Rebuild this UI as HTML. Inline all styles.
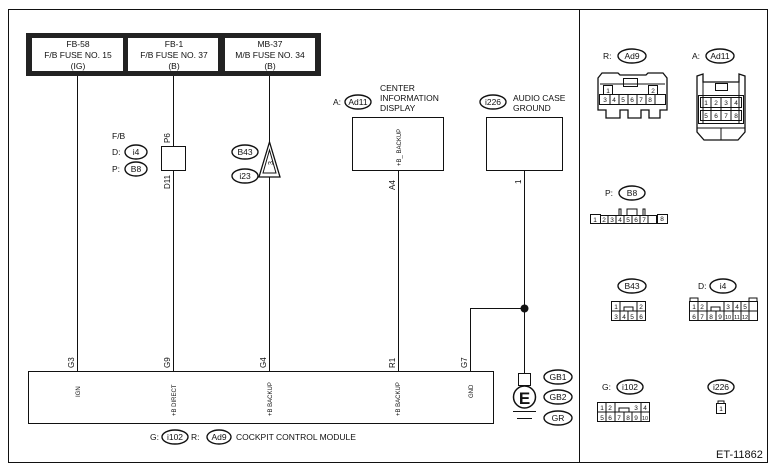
<!DOCTYPE html>
<html><head><meta charset="utf-8"><style>
html,body{margin:0;padding:0;background:#fff;}
svg{display:block;font-family:"Liberation Sans",sans-serif;}
text{fill:#111;}
</style></head><body>
<svg width="778" height="476" viewBox="0 0 778 476" xmlns="http://www.w3.org/2000/svg">
<g fill="none" stroke="#111" stroke-width="1">
<rect x="8.5" y="9.5" width="759" height="453"/>
<line x1="579.5" y1="9" x2="579.5" y2="463"/>
</g>
<!-- fuse block -->
<rect x="26" y="33" width="295" height="43" fill="#222"/>
<rect x="32" y="38" width="91" height="33" fill="#fff"/>
<rect x="128" y="38" width="90" height="33" fill="#fff"/>
<rect x="225" y="38" width="90" height="33" fill="#fff"/>
<g font-size="8.5" text-anchor="middle">
<text x="78" y="47">FB-58</text><text x="78" y="58">F/B FUSE NO. 15</text><text x="78" y="69">(IG)</text>
<text x="174" y="47">FB-1</text><text x="174" y="58">F/B FUSE NO. 37</text><text x="174" y="69">(B)</text>
<text x="270" y="47">MB-37</text><text x="270" y="58">M/B FUSE NO. 34</text><text x="270" y="69">(B)</text>
</g>
<g stroke="#111" stroke-width="1" fill="none">
<line x1="77.5" y1="76" x2="77.5" y2="371"/>
<line x1="173.5" y1="76" x2="173.5" y2="146"/>
<line x1="173.5" y1="170" x2="173.5" y2="371"/>
<line x1="269.5" y1="76" x2="269.5" y2="371"/>
<rect x="161.5" y="146.5" width="24" height="24" fill="#fff"/>
<polygon points="269.5,142 259,177 280,177" fill="#fff" stroke-width="1.3"/>
<polygon points="269.5,150 263,173 276,173"/>
<rect x="352.5" y="117.5" width="91" height="53"/>
<line x1="398.5" y1="171" x2="398.5" y2="371"/>
<rect x="486.5" y="117.5" width="76" height="53"/>
<line x1="524.5" y1="171" x2="524.5" y2="373"/>
<polyline points="470.5,371 470.5,308.5 524,308.5"/>
<rect x="28.5" y="371.5" width="465" height="52"/>
<rect x="518.5" y="373.5" width="12" height="12"/>
<circle cx="524.5" cy="397" r="11" stroke-width="1.5"/>
<line x1="513" y1="411.5" x2="536" y2="411.5"/>
<line x1="517" y1="418.5" x2="532" y2="418.5"/>
<g stroke-width="1.4">
<ellipse cx="136" cy="152" rx="11" ry="7"/>
<ellipse cx="136" cy="169" rx="11" ry="7"/>
<ellipse cx="245" cy="152" rx="13" ry="7"/>
<ellipse cx="245" cy="176" rx="13" ry="7"/>
<ellipse cx="358" cy="102" rx="13" ry="7"/>
<ellipse cx="493" cy="102" rx="13" ry="7"/>
<ellipse cx="558" cy="377" rx="14" ry="7"/>
<ellipse cx="558" cy="397" rx="14" ry="7"/>
<ellipse cx="558" cy="418" rx="14" ry="7"/>
<ellipse cx="175" cy="437" rx="13" ry="7"/>
<ellipse cx="219" cy="437" rx="12" ry="7"/>
</g>
</g>
<circle cx="524.5" cy="308.5" r="4" fill="#111"/>
<text x="524.5" y="404" font-size="17" font-weight="bold" text-anchor="middle">E</text>
<g font-size="8.5">
<text x="112" y="139">F/B</text>
<text x="112" y="155">D:</text><text x="136" y="155" text-anchor="middle">i4</text>
<text x="112" y="172">P:</text><text x="136" y="172" text-anchor="middle">B8</text>
<text x="245" y="155" text-anchor="middle">B43</text>
<text x="245" y="179" text-anchor="middle">i23</text>
<text x="333" y="105">A:</text><text x="358" y="105" text-anchor="middle">Ad11</text>
<text x="380" y="91">CENTER</text><text x="380" y="101">INFORMATION</text><text x="380" y="111">DISPLAY</text>
<text x="493" y="105" text-anchor="middle">i226</text>
<text x="513" y="101">AUDIO CASE</text><text x="513" y="111">GROUND</text>
<text x="558" y="380" text-anchor="middle">GB1</text>
<text x="558" y="400" text-anchor="middle">GB2</text>
<text x="558" y="421" text-anchor="middle">GR</text>
<text x="150" y="440">G:</text><text x="175" y="440" text-anchor="middle">i102</text>
<text x="191" y="440">R:</text><text x="219" y="440" text-anchor="middle">Ad9</text>
<text x="236" y="440">COCKPIT CONTROL MODULE</text>
<text x="716" y="458" font-size="11">ET-11862</text>
</g>
<!-- rotated pin labels -->
<g font-size="8">
<text transform="translate(170,143) rotate(-90)">P6</text>
<text transform="translate(170,189) rotate(-90)">D11</text>
<text transform="translate(273,165) rotate(-90)" font-size="7">3</text>
<text transform="translate(395,190) rotate(-90)">A4</text>
<text transform="translate(521,184) rotate(-90)">1</text>
<text transform="translate(74,368) rotate(-90)">G3</text>
<text transform="translate(170,368) rotate(-90)">G9</text>
<text transform="translate(266,368) rotate(-90)">G4</text>
<text transform="translate(395,368) rotate(-90)">R1</text>
<text transform="translate(467,368) rotate(-90)">G7</text>
</g>
<g font-size="6">
<text transform="translate(401,166) rotate(-90)">+B_ BACKUP</text>
<text transform="translate(80,397) rotate(-90)">IGN</text>
<text transform="translate(176,416) rotate(-90)">+B DIRECT</text>
<text transform="translate(272,416) rotate(-90)">+B BACKUP</text>
<text transform="translate(400,416) rotate(-90)">+B BACKUP</text>
<text transform="translate(473,398) rotate(-90)">GND</text>
</g>
<!-- right panel connectors -->
<g fill="none" stroke="#111" stroke-width="1">
<g stroke-width="1.4">
<ellipse cx="632" cy="56" rx="14" ry="7"/>
<ellipse cx="720" cy="56" rx="14" ry="7"/>
<ellipse cx="632" cy="193" rx="13" ry="7"/>
<ellipse cx="632" cy="286" rx="14" ry="7"/>
<ellipse cx="723" cy="286" rx="13" ry="7"/>
<ellipse cx="630" cy="387" rx="13" ry="7"/>
<ellipse cx="721" cy="387" rx="13" ry="7"/>
</g>
<!-- Ad9 connector -->
<path d="M598,78 L602,73 L618,73 L620,75 L646,75 L648,73 L663,73 L667,78 L667,110 L660,110 L660,118 L649,118 L649,110 L641,110 L641,118 L628,118 L628,110 L620,110 L620,118 L606,118 L606,110 L598,110 Z" stroke-width="1.3"/>
<path d="M600,84 L665,84"/>
<rect x="603.5" y="85.5" width="9" height="9"/><rect x="648.5" y="85.5" width="9" height="9"/>
<rect x="623.5" y="78.5" width="14" height="8"/>
<rect x="599.5" y="94.5" width="66" height="10"/>
<path d="M610,95v10M619,95v10M628,95v10M637,95v10M646,95v10M655,95v10"/>
<!-- Ad11 connector -->
<path d="M697,76 L703,74 L703,82 L739,82 L739,74 L745,76 L745,132 L738,140 L704,140 L697,132 Z" stroke-width="1.3"/>
<path d="M703,82 L703,124 M739,82 L739,124 M697,128 L745,128 M721,128 L721,140"/>
<rect x="715.5" y="83.5" width="12" height="7"/>
<rect x="698.5" y="95.5" width="45" height="28"/>
<rect x="700.5" y="97.5" width="41" height="10"/><rect x="700.5" y="110.5" width="41" height="10"/>
<path d="M711,97v24M721,97v24M731,97v24"/>
<!-- B8 -->
<rect x="590.5" y="214.5" width="10" height="9"/>
<rect x="600.5" y="215.5" width="56" height="8"/>
<rect x="657.5" y="214.5" width="10" height="9"/>
<path d="M608,215v9M616,215v9M624,215v9M632,215v9M640,215v9M648,215v9"/>
<path d="M619,215v-6h2v6M627,215v-6h10v6M643,215v-6h2v6"/>
<!-- B43 -->
<rect x="611.5" y="301.5" width="34" height="19"/>
<path d="M611,311h35M620,301v20M637,301v20M628,311v10"/>
<path d="M624,311v-4h9v4"/>
<!-- i4 -->
<rect x="689.5" y="301.5" width="68" height="19"/>
<path d="M689,311h69M698,301v20M707,301v20M716,311v10M724,301v20M733,301v20M741,301v20M749,301v20"/>
<path d="M711,311v-4h9v4M690,301v-3h8v3M749,301v-3h8v3"/>
<!-- i102 -->
<rect x="597.5" y="402.5" width="52" height="19"/>
<path d="M597,412h53M606,402v20M615,402v20M624,412v10M632,412v10M641,402v20"/>
<path d="M619,412v-4h10v4"/>
<!-- i226 -->
<rect x="716.5" y="403.5" width="9" height="10"/>
<path d="M718,403v-2h6v2"/>
</g>
<g font-size="8.5">
<text x="603" y="59">R:</text><text x="632" y="59" text-anchor="middle">Ad9</text>
<text x="692" y="59">A:</text><text x="720" y="59" text-anchor="middle">Ad11</text>
<text x="605" y="196">P:</text><text x="632" y="196" text-anchor="middle">B8</text>
<text x="632" y="289" text-anchor="middle">B43</text>
<text x="698" y="289">D:</text><text x="723" y="289" text-anchor="middle">i4</text>
<text x="602" y="390">G:</text><text x="630" y="390" text-anchor="middle">i102</text>
<text x="721" y="390" text-anchor="middle">i226</text>
</g>
<g font-size="6.5" text-anchor="middle">
<text x="608" y="93">1</text><text x="653" y="93">2</text>
<text x="605" y="102">3</text><text x="614" y="102">4</text><text x="623" y="102">5</text><text x="632" y="102">6</text><text x="641" y="102">7</text><text x="650" y="102">8</text>
<text x="706" y="105">1</text><text x="716" y="105">2</text><text x="726" y="105">3</text><text x="736" y="105">4</text>
<text x="706" y="118">5</text><text x="716" y="118">6</text><text x="726" y="118">7</text><text x="736" y="118">8</text>
<text x="595" y="222">1</text><text x="604" y="222">2</text><text x="612" y="222">3</text><text x="620" y="222">4</text><text x="628" y="222">5</text><text x="636" y="222">6</text><text x="644" y="222">7</text><text x="662" y="221">8</text>
<text x="616" y="309">1</text><text x="641" y="309">2</text>
<text x="616" y="319">3</text><text x="624" y="319">4</text><text x="632" y="319">5</text><text x="641" y="319">6</text>
<text x="694" y="309">1</text><text x="702" y="309">2</text><text x="728" y="309">3</text><text x="737" y="309">4</text><text x="745" y="309">5</text>
<text x="694" y="319">6</text><text x="702" y="319">7</text><text x="711" y="319">8</text><text x="720" y="319">9</text><text x="728" y="319" font-size="5.5">10</text><text x="737" y="319" font-size="5.5">11</text><text x="745" y="319" font-size="5.5">12</text>
<text x="602" y="410">1</text><text x="610" y="410">2</text><text x="636" y="410">3</text><text x="645" y="410">4</text>
<text x="602" y="420">5</text><text x="610" y="420">6</text><text x="619" y="420">7</text><text x="628" y="420">8</text><text x="636" y="420">9</text><text x="645" y="420" font-size="5.5">10</text>
<text x="721" y="411">1</text>
</g>
</svg>
</body></html>
